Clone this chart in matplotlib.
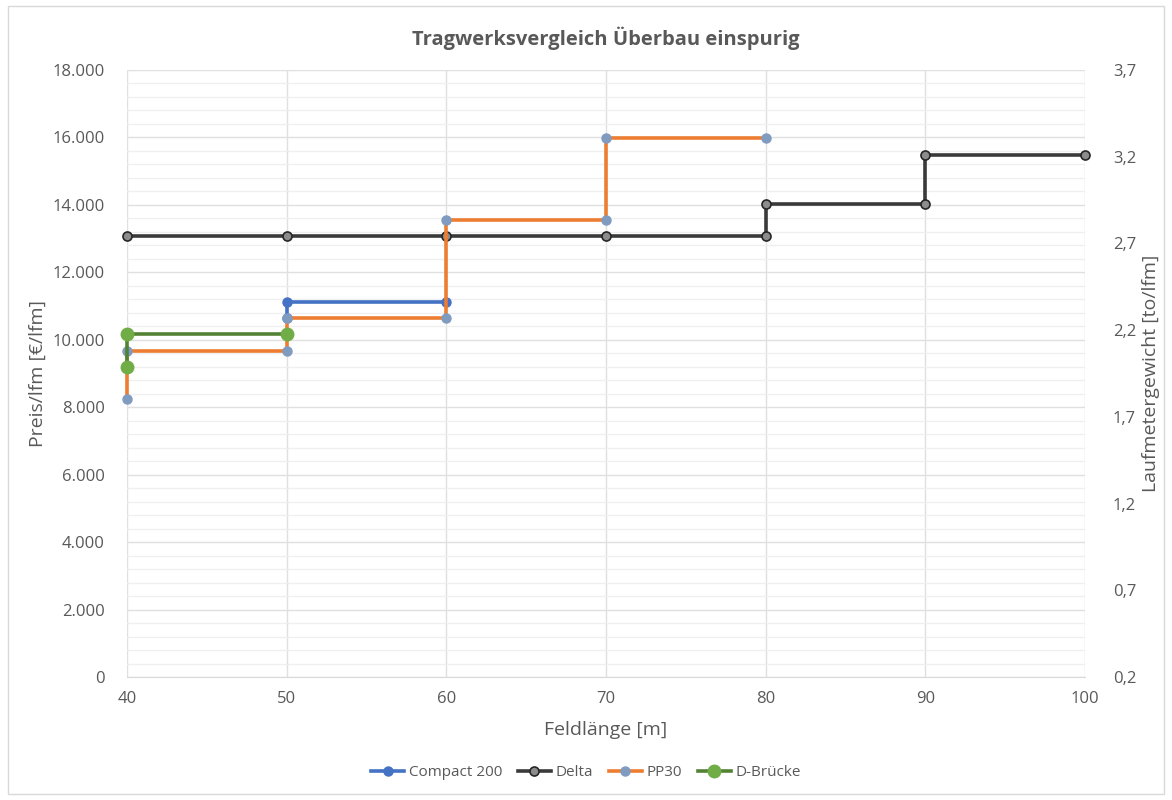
import numpy as np
import matplotlib.pyplot as plt
from matplotlib.ticker import MultipleLocator, FixedLocator, FuncFormatter

plt.rcParams['font.family'] = ['Open Sans', 'DejaVu Sans']

# step series (Feldlänge [m], Preis/lfm [€/lfm])
compact_x = [50, 50, 60]
compact_y = [10650, 11130, 11130]

delta_x = [40, 50, 60, 70, 80, 80, 90, 90, 100]
delta_y = [13070, 13070, 13070, 13070, 13070, 14020, 14020, 15480, 15480]

pp30_x = [40, 40, 50, 50, 60, 60, 70, 70, 80]
pp30_y = [8240, 9680, 9680, 10660, 10660, 13550, 13550, 15980, 15980]

dbruecke_x = [40, 40, 50]
dbruecke_y = [9180, 10170, 10170]

# right axis ticks (Laufmetergewicht [to/lfm])
weight_ticks = [0.2, 0.7, 1.2, 1.7, 2.2, 2.7, 3.2, 3.7]

txt = '#595959'
grid = '#e0e0e0'

fig = plt.figure(figsize=(11.72, 8), dpi=100)
ax = fig.add_axes([127 / 1172, 1 - 677 / 800, (1085 - 127) / 1172, (677 - 70) / 800])

ax.plot(delta_x, delta_y, color='#3a3a3a', lw=2.6, marker='o', ms=6.5,
        mfc='#8c8c8c', mec='#262626', mew=1.2, label='Delta', zorder=3, clip_on=False)
ax.plot(compact_x, compact_y, color='#4472c4', lw=2.6, marker='o', ms=6.5,
        mfc='#4472c4', mec='#4472c4', label='Compact 200', zorder=4, clip_on=False)
ax.plot(pp30_x, pp30_y, color='#ed7d31', lw=2.6, marker='o', ms=6.5,
        mfc='#7f9cc0', mec='#7f9cc0', label='PP30', zorder=5, clip_on=False)
ax.plot(dbruecke_x, dbruecke_y, color='#548235', lw=2.6, marker='o', ms=9,
        mfc='#70ad47', mec='#70ad47', label='D-Brücke', zorder=6, clip_on=False)

ax.set_xlim(40, 100)
ax.set_ylim(0, 18000)
ax.xaxis.set_major_locator(MultipleLocator(10))
ax.yaxis.set_major_locator(MultipleLocator(2000))
ax.yaxis.set_minor_locator(MultipleLocator(400))
ax.yaxis.set_major_formatter(FuncFormatter(lambda v, p: f'{int(v):,}'.replace(',', '.')))
ax.grid(True, which='major', color=grid, lw=1.0, zorder=0)
ax.grid(True, which='minor', axis='y', color='#efefef', lw=0.9, zorder=0)
ax.tick_params(which='both', length=0, colors=txt, labelsize=12)
ax.tick_params(axis='x', pad=10)
ax.tick_params(axis='y', pad=16)
for s in ['top', 'right', 'left']:
    ax.spines[s].set_visible(False)
ax.spines['bottom'].set_color('#d9d9d9')

ax.set_xlabel('Feldlänge [m]', color=txt, fontsize=14, labelpad=10)
ax.set_ylabel('Preis/lfm [€/lfm]', color=txt, fontsize=14, labelpad=4)

# secondary axis for Laufmetergewicht
ax2 = ax.twinx()
ax2.set_ylim(0.2, 3.7)
ax2.yaxis.set_major_locator(FixedLocator(weight_ticks))
ax2.yaxis.set_major_formatter(FuncFormatter(lambda v, p: f'{v:.1f}'.replace('.', ',')))
ax2.tick_params(length=0, colors=txt, labelsize=12, pad=20)
for s in ax2.spines.values():
    s.set_visible(False)
ax2.set_ylabel('Laufmetergewicht [to/lfm]', color=txt, fontsize=14, labelpad=4)

fig.suptitle('Tragwerksvergleich Überbau einspurig', x=(127 + 1085) / 2 / 1172,
             y=1 - 38 / 800, va='center', fontsize=14.5, fontweight='bold', color=txt)

handles, labels = ax.get_legend_handles_labels()
order = [1, 0, 2, 3]
fig.legend([handles[i] for i in order], [labels[i] for i in order],
           loc='center', bbox_to_anchor=(0.5, 1 - 773 / 800), ncol=4, frameon=False,
           fontsize=11, labelcolor=txt, handlelength=2.2, columnspacing=1.0,
           handletextpad=0.3)

# outer chart frame
fig.patches.append(plt.Rectangle((8 / 1172, 6 / 800), 1 - 16 / 1172, 1 - 12 / 800,
                                 transform=fig.transFigure, fill=False,
                                 edgecolor='#d9d9d9', lw=1.0))

fig.savefig('out.png', dpi=100, facecolor='white')
